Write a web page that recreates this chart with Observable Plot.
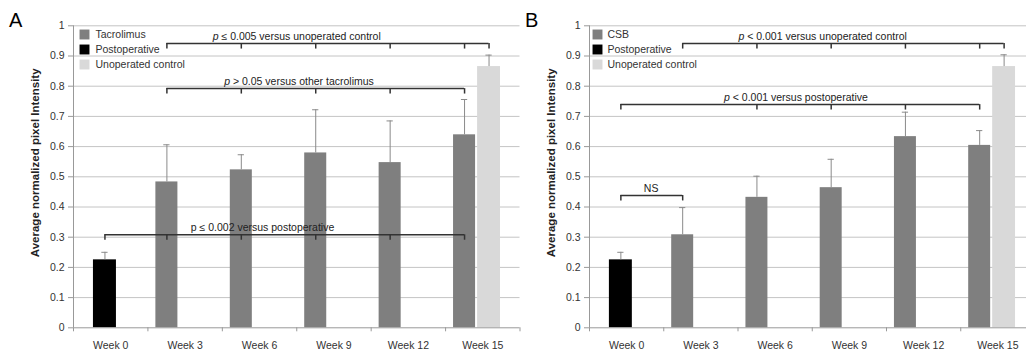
<!DOCTYPE html>
<html><head><meta charset="utf-8">
<script src="https://cdn.jsdelivr.net/npm/d3@7"></script>
<script src="https://cdn.jsdelivr.net/npm/@observablehq/plot@0.6"></script>
<style>
html,body{margin:0;padding:0;background:#fff;}
body{width:1026px;height:354px;overflow:hidden;position:relative;font-family:"Liberation Sans",Arial,sans-serif;}
.panel{position:absolute;top:0;}
.panel svg{max-width:none !important;display:block;}
.letter{position:absolute;top:10px;font-size:20px;line-height:20px;color:#000;}
</style></head><body>
<div id="A" class="panel" style="left:0px;width:522px"></div>
<div id="B" class="panel" style="left:516px;width:520px"></div>
<div class="letter" style="left:9px">A</div>
<div class="letter" style="left:525px">B</div>
<script>
// ---------- data ----------
const weeks = ["Week 0", "Week 3", "Week 6", "Week 9", "Week 12", "Week 15"];
const yTicks = [0, 0.1, 0.2, 0.3, 0.4, 0.5, 0.6, 0.7, 0.8, 0.9, 1];
const yTitle = "Average normalized pixel Intensity";

// Panel A
const seriesA = ["Tacrolimus", "Postoperative", "Unoperated control"];
const treatedWeeksA = ["Week 3", "Week 6", "Week 9", "Week 12", "Week 15"];
const tacMean = [0.483, 0.523, 0.579, 0.547, 0.639];
const tacErr  = [0.123, 0.050, 0.143, 0.138, 0.117];
const postMeanA = 0.225, postErrA = 0.025;
const unopMeanA = 0.865, unopErrA = 0.038;

// Panel B
const seriesB = ["CSB", "Postoperative", "Unoperated control"];
const treatedWeeksB = ["Week 3", "Week 6", "Week 9", "Week 12", "Week 15"];
const csbMean = [0.308, 0.432, 0.464, 0.633, 0.604];
const csbErr  = [0.090, 0.070, 0.094, 0.081, 0.049];
const postMeanB = 0.225, postErrB = 0.025;
const unopMeanB = 0.865, unopErrB = 0.039;

// significance brackets: legs refer to [kind, week]
const bracketsA = [
  {label: "p ≤ 0.005 versus unoperated control", italic: true, y: 0.941, labelX: 3.0,
   legs: [["treated","Week 3"],["treated","Week 6"],["treated","Week 9"],["treated","Week 12"],["treated","Week 15"],["unop","Week 15"]]},
  {label: "p > 0.05 versus other tacrolimus", italic: true, y: 0.792, labelX: 3.03,
   legs: [["treated","Week 3"],["treated","Week 6"],["treated","Week 9"],["treated","Week 12"],["treated","Week 15"]]},
  {label: "p ≤ 0.002 versus postoperative", italic: false, y: 0.308, labelX: 2.54,
   legs: [["post","Week 0"],["treated","Week 3"],["treated","Week 6"],["treated","Week 9"],["treated","Week 12"],["treated","Week 15"]]}
];
const bracketsB = [
  {label: "p < 0.001 versus unoperated control", italic: true, y: 0.941, labelX: 3.14,
   legs: [["treated","Week 3"],["treated","Week 6"],["treated","Week 9"],["treated","Week 12"],["treated","Week 15"],["unop","Week 15"]]},
  {label: "p < 0.001 versus postoperative", italic: true, y: 0.739, labelX: 2.78,
   legs: [["post","Week 0"],["treated","Week 6"],["treated","Week 9"],["treated","Week 12"],["treated","Week 15"]]},
  {label: "NS", italic: false, y: 0.438, labelX: 0.83,
   legs: [["post","Week 0"],["treated","Week 3"]]}
];

// ---------- layout / style ----------
const colorOf = {treated: "#7f7f7f", post: "#000000", unop: "#d9d9d9"};
const slot = {treated: [0.107, 0.403], post: [0.268, 0.577], unop: [0.43, 0.738]};
const font = '"Liberation Sans", Arial, sans-serif';

function buildBars(treatedWeeks, means, errs, postMean, postErr, unopMean, unopErr) {
  const bars = [];
  bars.push({kind: "post", week: "Week 0", mean: postMean, err: postErr});
  treatedWeeks.forEach((w, i) => bars.push({kind: "treated", week: w, mean: means[i], err: errs[i]}));
  bars.push({kind: "unop", week: "Week 15", mean: unopMean, err: unopErr});
  return bars;
}
const center = (kind, week) => weeks.indexOf(week) + (slot[kind][0] + slot[kind][1]) / 2;

function drawPanel(el, width, marginRight, series, bars, brackets, legendDx, textDx) {
  const kinds = ["treated", "post", "unop"];
  const legend = series.map((s, i) => ({label: s, kind: kinds[i], i}));
  const drop = 0.018;
  const horiz = brackets.map(b => {
    const xs = b.legs.map(([k, w]) => center(k, w));
    return {x1: d3.min(xs), x2: d3.max(xs), y: b.y};
  });
  const legs = brackets.flatMap(b => b.legs.map(([k, w]) => ({x: center(k, w), y1: b.y - drop, y2: b.y})));
  const capHalf = 0.042;
  const legendMarks = legend.flatMap(d => [
    Plot.dot([d], {frameAnchor: "top-left", dx: legendDx, dy: 8.7 + 15 * d.i, symbol: "square", r: 5.6,
                   fill: colorOf[d.kind], stroke: "none"}),
    Plot.text([d], {frameAnchor: "top-left", dx: textDx, dy: 8.7 + 15 * d.i, text: "label", textAnchor: "start",
                    lineAnchor: "middle", fill: "#333", fontSize: 10.5})
  ]);
  const svg = Plot.plot({
    width, height: 354,
    marginLeft: 73, marginRight, marginTop: 25.3, marginBottom: 26.7,
    x: {domain: [0, 6], axis: null},
    y: {domain: [0, 1], axis: null},
    color: {type: "identity"},
    style: {fontFamily: font, fontSize: "10.5px", color: "#333", background: "transparent", overflow: "visible"},
    marks: [
      Plot.ruleY(yTicks.filter(d => d > 0), {stroke: "#c4c4c4", strokeWidth: 1}),
      Plot.axisY({ticks: yTicks, tickSize: 5, tickPadding: 4, stroke: "#999", fill: "#333",
                  tickFormat: d => String(+d.toFixed(1)), label: null}),
      Plot.axisX({ticks: [0, 1, 2, 3, 4, 5, 6], tickSize: 4, tickFormat: () => "", stroke: "#999", label: null}),
      Plot.axisX({ticks: [0.5, 1.5, 2.5, 3.5, 4.5, 5.5], tickSize: 0, tickPadding: 14, fill: "#333",
                  tickFormat: v => weeks[Math.floor(v)], label: null}),
      Plot.text([yTitle], {frameAnchor: "left", textAnchor: "middle", dx: -38, dy: -14, rotate: -90,
                           fontWeight: "bold", fontSize: 11.5, fill: "#222"}),
      Plot.rectY(bars, {x1: d => weeks.indexOf(d.week) + slot[d.kind][0],
                        x2: d => weeks.indexOf(d.week) + slot[d.kind][1],
                        y1: 0, y2: "mean", fill: d => colorOf[d.kind]}),
      Plot.ruleX(bars, {x: d => center(d.kind, d.week), y1: "mean", y2: d => d.mean + d.err, stroke: "#8a8a8a", strokeWidth: 1}),
      Plot.ruleY(bars, {y: d => d.mean + d.err, x1: d => center(d.kind, d.week) - capHalf,
                        x2: d => center(d.kind, d.week) + capHalf, stroke: "#8a8a8a", strokeWidth: 1}),
      Plot.ruleY([0], {stroke: "#999"}),
      Plot.ruleX([0], {stroke: "#999"}),
      Plot.ruleY(horiz, {x1: "x1", x2: "x2", y: "y", stroke: "#333", strokeWidth: 1.5}),
      Plot.ruleX(legs, {x: "x", y1: "y1", y2: "y2", stroke: "#333", strokeWidth: 1.5}),
      Plot.text(brackets, {x: "labelX", y: "y", text: "label", dy: -7, fill: "#222", fontSize: 10.5}),
      ...legendMarks
    ]
  });
  // italic "p" in bracket labels
  const italicLabels = brackets.filter(b => b.italic).map(b => b.label);
  d3.select(svg).selectAll("text").each(function () {
    const t = this.textContent;
    if (italicLabels.includes(t)) {
      const node = d3.select(this);
      node.text(null);
      node.append("tspan").attr("font-style", "italic").text("p");
      node.append("tspan").text(t.slice(1));
    }
  });
  el.appendChild(svg);
  return svg;
}

const barsA = buildBars(treatedWeeksA, tacMean, tacErr, postMeanA, postErrA, unopMeanA, unopErrA);
const barsB = buildBars(treatedWeeksB, csbMean, csbErr, postMeanB, postErrB, unopMeanB, unopErrB);
drawPanel(document.getElementById("A"), 522, 2.5, seriesA, barsA, bracketsA, 11, 22);
drawPanel(document.getElementById("B"), 520, 1.5, seriesB, barsB, bracketsB, 8, 18);
</script>
</body></html>
